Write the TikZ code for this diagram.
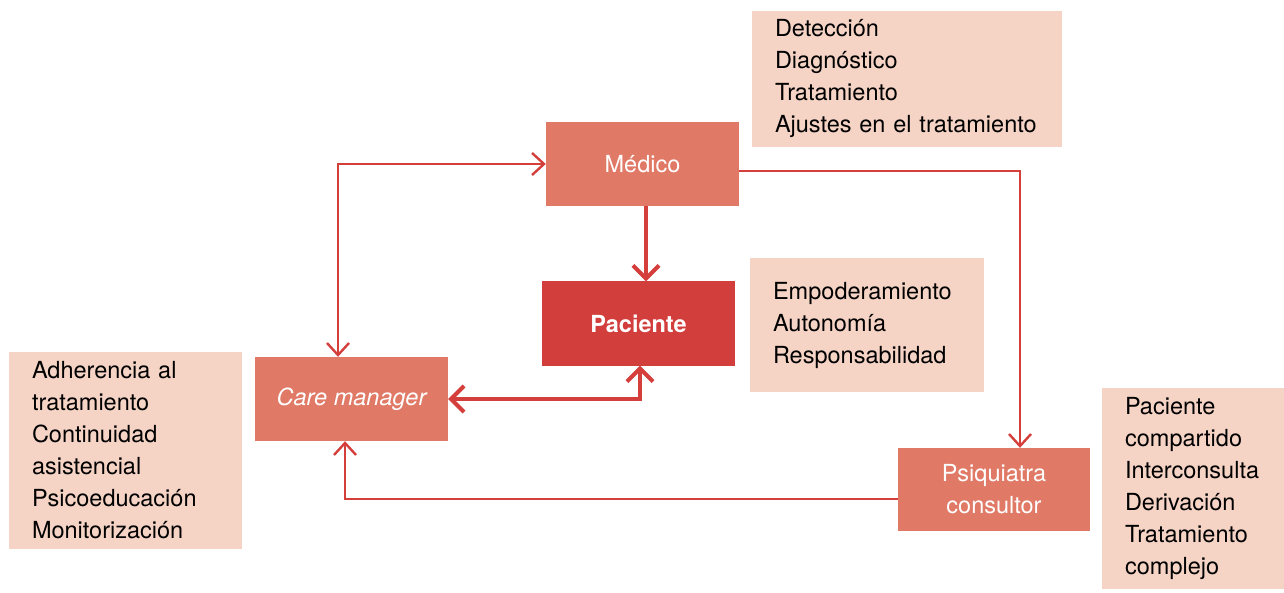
\documentclass[tikz,border=0pt]{standalone}
\usepackage{fontspec}
\setmainfont{TeX Gyre Heros}
\usepackage{tikz}
\usetikzlibrary{arrows.meta}

\definecolor{notepink}{HTML}{F5D3C5}
\definecolor{rolebox}{HTML}{E07965}
\definecolor{patientbox}{HTML}{D23E3B}
\definecolor{linkred}{HTML}{D43F3C}

\begin{document}
\begin{tikzpicture}[x=1pt, y=-1pt]
        \tikzstyle{every node}=[font=\fontsize{23.5}{32}\selectfont]
        \tikzstyle{role}=[fill=rolebox, text=white, minimum width=193pt, minimum height=84pt, align=center, inner sep=0pt]
        \tikzstyle{note}=[fill=notepink, align=left, inner xsep=23pt, inner ysep=0pt]
        \tikzstyle{link}=[draw=linkred, line width=2.4pt, {Straight Barb[length=12pt, width=22pt]}-{Straight Barb[length=12pt, width=22pt]}]
        \tikzstyle{strong}=[draw=linkred, line width=4pt, {Straight Barb[length=13pt, width=26pt]}-{Straight Barb[length=13pt, width=26pt]}]

        \useasboundingbox (0,0) rectangle (1284,593);

        % roles
        \node[role] (medico) at (642.5,164) {Médico};
        \node[role, fill=patientbox, font=\fontsize{23.5}{32}\selectfont\bfseries] (paciente) at (638.5,323.5) {Paciente};
        \node[role] (care) at (351.5,399) {\itshape Care manager};
        \node[role, minimum width=192pt, minimum height=83pt] (psiq) at (994,489.5) {Psiquiatra\\consultor};

        % notes
        \node[note, text width=274pt, inner xsep=18pt, minimum height=136pt] (tareas) at (907,79) {\hspace*{5pt}Detección\\\hspace*{5pt}Diagnóstico\\\hspace*{5pt}Tratamiento\\\hspace*{5pt}Ajustes en el tratamiento};
        \node[note, text width=188pt, minimum height=134pt] (actitud) at (867,325) {Empoderamiento\\Autonomía\\Responsabilidad};
        \node[note, text width=187pt, minimum height=197pt] (seguimiento) at (125.5,450.5) {Adherencia al\\tratamiento\\Continuidad\\asistencial\\Psicoeducación\\Monitorización};
        \node[note, text width=136pt, minimum height=201pt] (apoyo) at (1193,488.5) {Paciente\\compartido\\Interconsulta\\Derivación\\Tratamiento\\complejo};

        % links
        \draw[link] ([xshift=-13.5pt]care.north) |- (medico.west);
        \draw[link, -{Straight Barb[length=12pt, width=22pt]}] ([yshift=-7pt]medico.east) -| ([xshift=26pt]psiq.north);
        \draw[link, -{Straight Barb[length=12pt, width=22pt]}] ([yshift=-9.5pt]psiq.west) -| ([xshift=-6.5pt]care.south);
        \draw[strong, -{Straight Barb[length=13pt, width=26pt]}] ([xshift=3.5pt]medico.south) -- ([xshift=3.5pt]medico.south |- paciente.north);
        \draw[strong] (care.east) -| ([xshift=1.5pt]paciente.south);
\end{tikzpicture}
\end{document}
